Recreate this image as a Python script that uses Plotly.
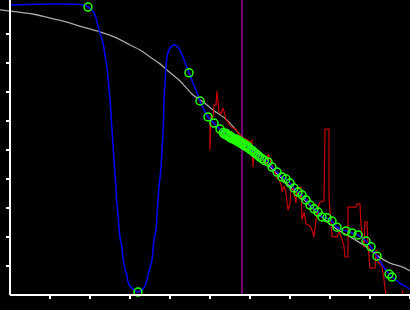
import plotly.graph_objects as go

# ---- data (axis units) ----
fit_x = [-0.25, 0.175, 0.575, 1.0, 1.425, 1.825, 2.25, 2.675, 3.0, 3.25, 3.5, 3.75, 3.925,
         4.25, 4.575, 4.8, 5.075, 5.425, 5.75, 6.075, 6.425, 7.25, 8.125, 8.55, 8.95, 9.2,
         9.5, 9.8, 10.0]
fit_y = [9.83, 9.76, 9.69, 9.55, 9.41, 9.24, 9.07, 8.86, 8.62, 8.45, 8.21, 7.97, 7.76,
         7.38, 6.90, 6.69, 6.38, 6.03, 5.52, 5.03, 4.52, 3.41, 2.31, 1.97, 1.62, 1.34,
         1.10, 0.97, 0.83]

raw_x = [5.0, 5.0, 5.025, 5.075, 5.10, 5.15, 5.175, 5.20, 5.225, 5.275, 5.325, 5.375, 5.40,
         5.45, 5.50, 5.575, 5.65, 5.70, 5.75, 5.80, 5.90, 6.00, 6.05, 6.075, 6.10, 6.175,
         6.225, 6.275, 6.35, 6.425, 6.45, 6.50, 6.55, 6.60, 6.65, 6.725, 6.775, 6.80, 6.85,
         6.90, 6.925, 6.95, 7.00, 7.025, 7.075, 7.125, 7.15, 7.175, 7.275, 7.30, 7.35, 7.40,
         7.50, 7.55, 7.60, 7.65, 7.70, 7.75, 7.85, 7.875, 7.975, 7.975, 8.025, 8.05, 8.175,
         8.225, 8.275, 8.35, 8.375, 8.45, 8.45, 8.65, 8.675, 8.75, 8.775, 8.80, 8.85, 8.875,
         8.925, 8.95, 9.00, 9.125, 9.15, 9.20, 9.30, 9.35, 9.40, 9.80, 9.825]
raw_y = [6.10, 5.00, 6.14, 6.14, 6.55, 6.55, 7.03, 6.72, 6.31, 6.24, 6.45, 6.21, 6.03,
         5.97, 5.83, 5.76, 5.72, 5.59, 5.52, 5.41, 5.38, 5.28, 5.34, 4.41, 4.93, 4.97,
         4.86, 4.72, 4.59, 4.48, 4.86, 4.72, 4.45, 4.31, 4.10, 3.97, 3.83, 3.55, 3.76,
         3.52, 3.28, 2.93, 3.17, 3.62, 3.69, 3.28, 3.17, 3.69, 3.72, 2.59, 2.86, 2.45,
         2.38, 2.24, 2.00, 2.59, 3.00, 3.21, 3.24, 5.72, 5.72, 3.34, 2.59, 2.03, 2.00,
         2.17, 2.03, 1.69, 1.31, 1.31, 3.03, 3.03, 3.14, 3.14, 2.41, 2.14, 1.66, 2.52,
         2.52, 1.72, 0.93, 0.93, 1.55, 1.14, 1.00, 0.52, 0.0, 0.0, 0.17]

curve_x = [0.0, 1.85, 1.95, 2.05, 2.125, 2.175, 2.25, 2.325, 2.375, 2.425, 2.475, 2.50, 2.55,
           2.60, 2.65, 2.675, 2.70, 2.725, 2.75, 2.80, 2.825, 2.875, 2.925, 2.95, 3.0, 3.075,
           3.20, 3.325, 3.375, 3.425, 3.45, 3.50, 3.55, 3.575, 3.60, 3.65, 3.675, 3.70, 3.725,
           3.775, 3.80, 3.825, 3.84, 3.85, 3.875, 3.90, 3.925, 3.975, 4.05, 4.125, 4.20, 4.30,
           4.40, 4.475, 4.575, 4.675, 4.75, 4.95, 5.10, 5.25, 5.375, 5.55, 5.75, 5.95, 6.125,
           6.30, 6.45, 6.55, 6.675, 6.80, 6.90, 7.0, 7.1, 7.2, 7.3, 7.4, 7.5, 7.6, 7.7, 7.8,
           7.925, 8.05, 8.175, 8.4, 8.55, 8.7, 8.9, 9.025, 9.175, 9.325, 9.475, 9.55, 9.75, 10.0]
curve_y = [10.0, 10.0, 9.93, 9.83, 9.66, 9.41, 9.03, 8.69, 8.28, 7.86, 7.07, 6.72, 5.69,
           4.66, 3.62, 3.10, 2.76, 2.31, 1.97, 1.62, 1.24, 0.90, 0.66, 0.45, 0.31, 0.21,
           0.10, 0.21, 0.31, 0.52, 0.69, 0.93, 1.21, 1.55, 1.90, 2.24, 2.76, 3.28, 3.72,
           4.41, 5.00, 5.59, 6.14, 6.72, 7.31, 7.86, 8.21, 8.45, 8.59, 8.62, 8.55, 8.28,
           7.93, 7.66, 7.31, 6.97, 6.69, 6.14, 5.93, 5.72, 5.59, 5.48, 5.31, 5.10, 4.90,
           4.72, 4.59, 4.41, 4.24, 4.07, 4.00, 3.86, 3.69, 3.55, 3.45, 3.28, 3.10, 2.97, 2.86, 2.69,
           2.66, 2.55, 2.34, 2.21, 2.14, 2.07, 1.86, 1.66, 1.34, 1.00, 0.72, 0.62, 0.41, 0.21]

knot_x = [1.95, 3.20, 4.475, 4.75, 4.95, 5.10, 5.25,
          5.33, 5.36, 5.39, 5.42, 5.45, 5.48, 5.50, 5.53, 5.56, 5.59, 5.62, 5.65, 5.68, 5.71,
          5.74, 5.77, 5.80, 5.83, 5.86, 5.89, 5.92, 5.95, 5.98, 6.02, 6.06, 6.10, 6.14, 6.19,
          6.24, 6.30, 6.36,
          6.45, 6.55, 6.675, 6.80, 6.90, 7.0, 7.1, 7.2, 7.3, 7.4, 7.5, 7.6, 7.7, 7.8, 7.925,
          8.05, 8.175, 8.4, 8.55, 8.7, 8.9, 9.025, 9.175, 9.475, 9.55]
knot_y = [9.93, 0.10, 7.66, 6.69, 6.14, 5.93, 5.72,
          5.60, 5.55, 5.58, 5.50, 5.52, 5.45, 5.49, 5.40, 5.43, 5.38, 5.35, 5.38, 5.30, 5.33,
          5.25, 5.28, 5.20, 5.23, 5.15, 5.17, 5.10, 5.12, 5.05, 5.00, 4.98, 4.92, 4.88, 4.82,
          4.76, 4.70, 4.64,
          4.59, 4.41, 4.24, 4.07, 4.00, 3.86, 3.69, 3.55, 3.45, 3.28, 3.10, 2.97, 2.86, 2.69, 2.66,
          2.55, 2.34, 2.21, 2.14, 2.07, 1.86, 1.66, 1.34, 0.72, 0.62]

marker_x = 5.8
x_ticks = [1, 2, 3, 4, 5, 6, 7, 8, 9, 10]
y_ticks = [1, 2, 3, 4, 5, 6, 7, 8, 9]

W, H = 410, 310
ML, MB = 10, 15

fig = go.Figure()
fig.add_trace(go.Scatter(x=fit_x, y=fit_y, mode="lines", line=dict(color="#a8a8a8", width=1.3, shape="spline")))
fig.add_trace(go.Scatter(x=raw_x, y=raw_y, mode="lines", line=dict(color="#c80000", width=1.2)))
fig.add_trace(go.Scatter(x=curve_x, y=curve_y, mode="lines", line=dict(color="#0000ff", width=1.5, shape="spline")))
fig.add_trace(go.Scatter(x=knot_x, y=knot_y, mode="markers", cliponaxis=False,
                         marker=dict(symbol="circle-open", size=8, color="#22ff00", line=dict(width=1.5))))

fig.add_shape(type="line", xref="x", yref="paper", x0=marker_x, x1=marker_x, y0=0, y1=1,
              line=dict(color="#990099", width=1.5), layer="below")
fig.add_shape(type="line", xref="paper", yref="paper", x0=ML / W, x1=1, y0=0, y1=0,
              line=dict(color="white", width=2))

fig.update_layout(
    width=W, height=H,
    margin=dict(l=0, r=0, t=0, b=MB),
    paper_bgcolor="black", plot_bgcolor="black",
    showlegend=False,
    xaxis=dict(range=[-0.25, 10], showgrid=False, zeroline=False, showline=False,
               ticks="outside", tickvals=x_ticks, ticklen=3, tickwidth=2, tickcolor="white",
               showticklabels=False),
    yaxis=dict(range=[0, 10.1724], showgrid=False, zeroline=False, showline=True,
               linecolor="white", linewidth=2, anchor="free", position=ML / W,
               ticks="outside", tickvals=y_ticks, ticklen=3, tickwidth=2, tickcolor="white",
               showticklabels=False),
)

fig.write_html("out.html")
